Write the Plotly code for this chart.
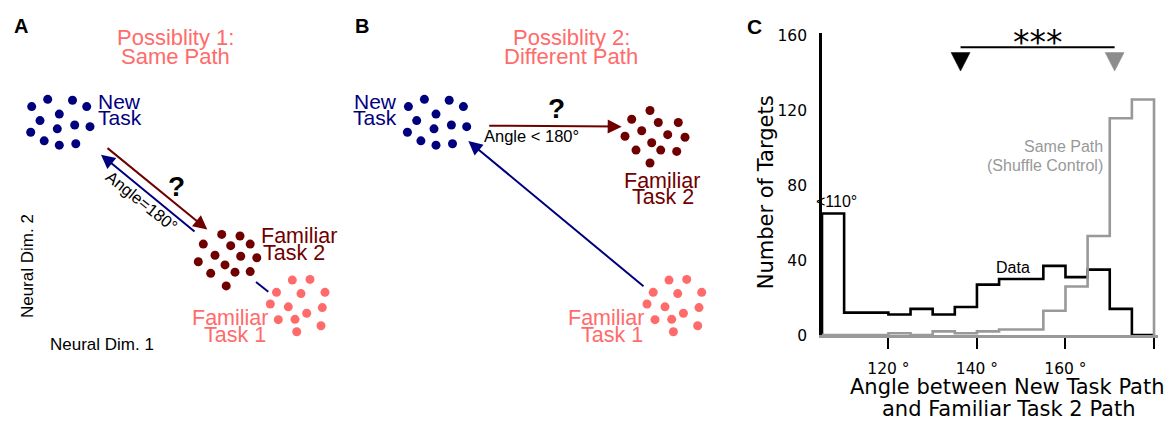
import plotly.graph_objects as go

# ---------------- Panel C data (histograms) ----------------
bin_edges = [105, 110, 115, 120, 125, 130, 135, 140, 145, 150, 155, 160, 165, 170, 175, 180]
data_counts = [65, 12, 12, 11, 14, 11, 15, 27, 30, 30, 37, 31, 35, 14, 0]
shuffle_counts = [0, 0, 0, 1, 0, 2, 1, 2, 3, 3, 13, 26, 53, 116, 126]
x_tick_vals = [120, 140, 160, 180]
x_tick_text = ["120 °", "140 °", "160 °", "180 °"]
y_tick_vals = [0, 40, 80, 120, 160]
median_data = 136.3
median_shuffle = 171.1

# ---------------- Schematic data (panels A and B, pixel space) ----------------
newA_x = [31.7, 47.7, 72.5, 86.7, 59.3, 40.0, 57.3, 74.7, 90.0, 30.7, 44.2, 59.3, 75.8]
newA_y = [104.2, 96.7, 97.7, 104.2, 112.0, 118.7, 127.3, 123.3, 125.0, 130.8, 139.7, 144.2, 142.7]
fam2A_x = [221.7, 240.0, 203.3, 230.7, 250.2, 215.0, 240.7, 256.8, 198.3, 225.0, 235.0, 250.2, 210.7, 226.2]
fam2A_y = [236.7, 238.3, 246.7, 248.3, 246.7, 258.3, 259.3, 260.8, 265.0, 268.3, 275.8, 275.2, 277.0, 290.0]
fam1A_x = [292.3, 310.0, 276.5, 301.0, 325.0, 270.3, 288.3, 322.3, 306.7, 278.3, 295.0, 321.0, 296.7]
fam1A_y = [284.0, 283.3, 296.7, 298.0, 296.7, 308.8, 311.7, 312.5, 318.3, 325.0, 324.7, 331.3, 337.5]
shiftB = 376.7
newB_x = [v + shiftB for v in newA_x]
newB_y = newA_y
fam1B_x = [v + shiftB for v in fam1A_x]
fam1B_y = fam1A_y
fam2B_x = [650.0, 631.7, 658.3, 678.3, 641.7, 667.7, 625.0, 685.0, 651.7, 636.0, 660.7, 676.7, 650.0]
fam2B_y = [108.3, 117.3, 120.7, 120.7, 129.3, 133.3, 135.0, 136.0, 141.7, 149.3, 149.3, 150.7, 162.7]

# arrows: (tail_x, tail_y, head_x, head_y)
arrowA_red = (106.0, 146.0, 207.3, 231.7)
arrowA_blue = (196.0, 235.0, 101.0, 154.0)
segA_blue_x = [256.0, 268.3]
segA_blue_y = [286.0, 296.0]
arrowB_red = (487.7, 124.0, 621.7, 125.0)
arrowB_blue = (645.0, 291.7, 468.3, 140.0)

NAVY = "#00007f"
DRED = "#700000"
SALMON = "#ff6b6b"
GRAY = "#999999"
ARIAL = "Liberation Sans, Arial, sans-serif"
DEJAVU = "DejaVu Sans, sans-serif"

W, H = 1175, 430

fig = go.Figure()

# ---- schematic dots ----
for xs, ys, col in [(newA_x, newA_y, NAVY), (fam2A_x, fam2A_y, DRED), (fam1A_x, fam1A_y, SALMON),
                    (newB_x, newB_y, NAVY), (fam2B_x, fam2B_y, DRED), (fam1B_x, fam1B_y, SALMON)]:
    fig.add_trace(go.Scatter(x=xs, y=ys, mode="markers", xaxis="x2", yaxis="y2",
                             marker=dict(size=9, color=col, line=dict(width=0)),
                             hoverinfo="skip", showlegend=False))
fig.add_trace(go.Scatter(x=segA_blue_x, y=segA_blue_y, mode="lines", xaxis="x2", yaxis="y2",
                         line=dict(color=NAVY, width=2), hoverinfo="skip", showlegend=False))

# ---- panel C histograms ----
def step_xy(edges, counts):
    xs = [edges[0]] + edges[:-1] + [edges[-1]]
    ys = [0] + counts + [0]
    return xs, ys

dx, dy = step_xy(bin_edges, data_counts)
sx, sy = step_xy(bin_edges, shuffle_counts)
fig.add_trace(go.Scatter(x=dx, y=dy, mode="lines", line=dict(color="black", width=2.6, shape="hv"),
                         showlegend=False, hoverinfo="skip"))
fig.add_trace(go.Scatter(x=sx, y=sy, mode="lines", line=dict(color=GRAY, width=2.6, shape="hv"),
                         showlegend=False, hoverinfo="skip"))

# triangles (median markers) as filled polygons
px_per_deg = (1154 - 888) / 60.0
px_per_cnt = 310 / 160.0
half_w = 9.5 / px_per_deg
tri_top = 151.1
tri_bot = 141.2
for m, col in [(median_data, "black"), (median_shuffle, "#8c8c8c")]:
    fig.add_trace(go.Scatter(x=[m - half_w, m + half_w, m, m - half_w],
                             y=[tri_top, tri_top, tri_bot, tri_top],
                             mode="lines", fill="toself", fillcolor=col,
                             line=dict(color=col, width=0.5), showlegend=False, hoverinfo="skip"))
fig.add_trace(go.Scatter(x=[median_data, median_shuffle], y=[154, 154], mode="lines",
                         line=dict(color="black", width=2), showlegend=False, hoverinfo="skip"))

# ---- annotations ----
ann = []
def txt(x, y, s, size, color="black", family=ARIAL, xanchor="center", ref="pix", bold=False, angle=0, yanchor="middle"):
    if bold:
        s = "<b>" + s + "</b>"
    d = dict(x=x, y=y, text=s, showarrow=False, xanchor=xanchor, yanchor=yanchor,
             font=dict(size=size, color=color, family=family), textangle=angle)
    if ref == "pix":
        d.update(xref="x2", yref="y2")
    else:
        d.update(xref="x", yref="y")
    ann.append(d)

def arrow(a, color):
    tx, ty, hx, hy = a
    ann.append(dict(x=hx, y=hy, ax=tx, ay=ty, xref="x2", yref="y2", axref="x2", ayref="y2",
                    showarrow=True, arrowhead=2, arrowsize=1.4, arrowwidth=2, arrowcolor=color,
                    text="", standoff=0))

arrow(arrowA_red, DRED)
arrow(arrowA_blue, NAVY)
arrow(arrowB_red, DRED)
arrow(arrowB_blue, NAVY)

# Panel A
txt(20.5, 20.5, "A", 20, bold=True)
txt(175, 32.3, "Possiblity 1:", 22, SALMON)
txt(175.3, 52.7, "Same Path", 22, SALMON)
txt(95.5, 99, "New", 21, NAVY, xanchor="left")
txt(95.5, 116, "Task", 21, NAVY, xanchor="left")
txt(259, 238.3, "Familiar", 21.5, DRED, xanchor="left")
txt(260.5, 256, "Task 2", 21.5, DRED, xanchor="left")
txt(269.5, 323.3, "Familiar", 21.5, SALMON, xanchor="right")
txt(268, 341, "Task 1", 21.5, SALMON, xanchor="right")
txt(176, 187, "?", 28, bold=True)
txt(141.7, 202, "Angle=180°", 16.5, angle=38.7)
txt(27.5, 270, "Neural Dim. 2", 17, angle=-90)
txt(101.7, 350.7, "Neural Dim. 1", 17)

# Panel B
txt(362, 21, "B", 20, bold=True)
txt(571.3, 32.3, "Possiblity 2:", 22, SALMON)
txt(571.2, 52.7, "Different Path", 22, SALMON)
txt(398.5, 99, "New", 21, NAVY, xanchor="right")
txt(398.5, 116, "Task", 21, NAVY, xanchor="right")
txt(556, 106, "?", 28, bold=True)
txt(531.7, 135, "Angle < 180°", 16.5)
txt(662.3, 181, "Familiar", 21.5, DRED)
txt(662.7, 197.5, "Task 2", 21.5, DRED)
txt(646, 323.3, "Familiar", 21.5, SALMON, xanchor="right")
txt(644.5, 341, "Task 1", 21.5, SALMON, xanchor="right")

# Panel C
txt(754, 21, "C", 21, bold=True)
txt(766, 193, "Number of Targets", 21, family=DEJAVU, angle=-90)
txt(1007, 395, "Angle between New Task Path", 21, family=DEJAVU)
txt(1009, 418, "and Familiar Task 2 Path", 21, family=DEJAVU)
def d2x(px):
    return bin_edges[0] + (px - 822) / px_per_deg
def d2y(py):
    return (341 - py) / px_per_cnt
txt(d2x(837), d2y(203), "<110°", 16, ref="data")
txt(d2x(1013), d2y(271), "Data", 16, ref="data")
txt(d2x(1105), d2y(146), "Same Path", 16, GRAY, xanchor="right", ref="data")
txt(d2x(1105), d2y(165), "(Shuffle Control)", 16, GRAY, xanchor="right", ref="data")
txt((median_data + median_shuffle) / 2, d2y(38), "***", 33, family=DEJAVU, ref="data")

fig.update_layout(
    width=W, height=H, autosize=False, margin=dict(l=0, r=0, t=0, b=0),
    paper_bgcolor="white", plot_bgcolor="rgba(0,0,0,0)",
    annotations=ann, showlegend=False,
    xaxis=dict(domain=[822 / W, 1158 / W], range=[105, 180.9], showgrid=False, zeroline=False,
               showline=True, linecolor=GRAY, linewidth=2.6,
               tickvals=x_tick_vals, ticktext=x_tick_text, ticks="outside", ticklen=11,
               tickwidth=2, tickcolor="black", ticklabelstandoff=6,
               tickfont=dict(family=DEJAVU, size=15.5, color="black"), anchor="y"),
    yaxis=dict(domain=[(H - 341) / H, (H - 28) / H], range=[0, 313 / px_per_cnt],
               showgrid=False, zeroline=False, showline=True, linecolor="black", linewidth=2.6,
               tickvals=y_tick_vals, ticks="", ticklabelstandoff=9,
               tickfont=dict(family=DEJAVU, size=15.5, color="black"), anchor="x"),
    xaxis2=dict(domain=[0, 1], range=[0, W], visible=False, anchor="y2"),
    yaxis2=dict(domain=[0, 1], range=[H, 0], visible=False, anchor="x2"),
)
fig.write_html(
    "out.html",
    config={"responsive": False, "displayModeBar": False},
    post_script=(
        "var d=document.documentElement,b=document.body;"
        "[d,b].forEach(function(e){e.style.margin='0';e.style.padding='0';e.style.overflow='hidden';});"
        "var gd=document.getElementById('{plot_id}');"
        "var w=d.clientWidth||window.innerWidth,h=d.clientHeight||window.innerHeight;"
        "if(!(w>300)){w=1175;} if(!(h>150)){h=430;}"
        "gd.style.width=w+'px';gd.style.height=h+'px';"
        "Plotly.relayout(gd,{width:w,height:h,autosize:false});"
    ),
)
